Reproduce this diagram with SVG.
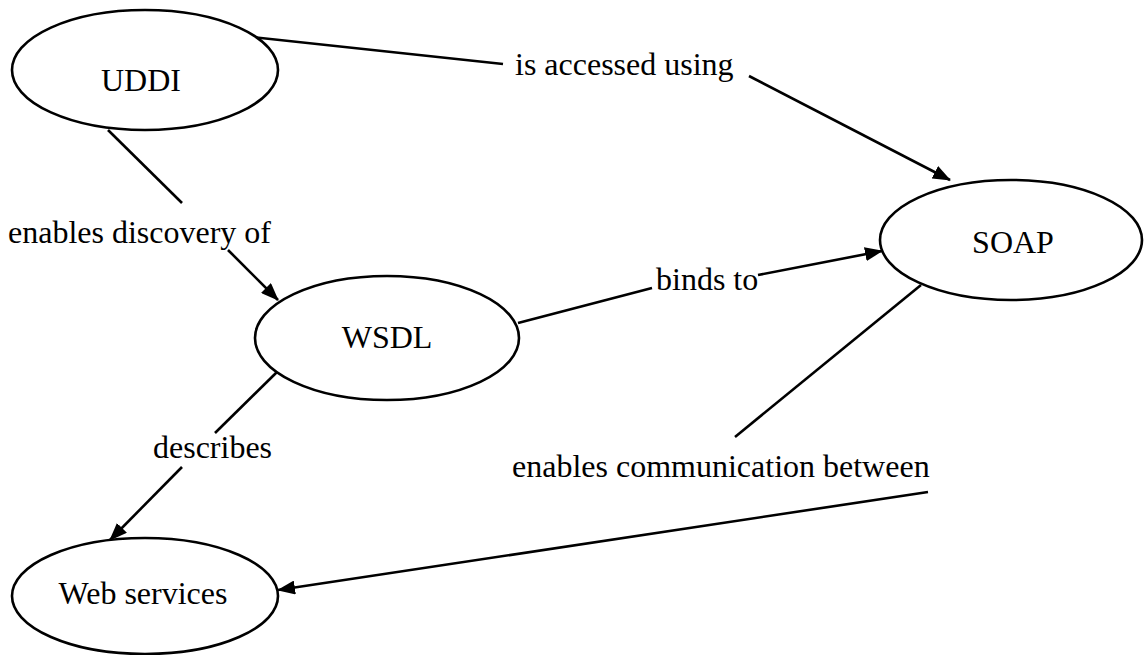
<svg xmlns="http://www.w3.org/2000/svg" width="1146" height="655" viewBox="0 0 1146 655">
<style>
.node{fill:#fff;stroke:#000;stroke-width:2.6}
text{font-family:'Liberation Serif','Times New Roman',serif;font-size:32px;fill:#000}
.mid{text-anchor:middle}
.edge{stroke:#000;stroke-width:2.6;fill:none}
</style>
<defs>
<marker id="arr" markerUnits="userSpaceOnUse" markerWidth="18" markerHeight="14" refX="17" refY="7" orient="auto">
<path d="M0,0 L18,7 L0,14 z" fill="#000"/>
</marker>
</defs>
<rect width="1146" height="655" fill="#fff"/>
<g id="connectors">
<line class="edge" x1="252" y1="37" x2="503" y2="64"/>
<text x="515" y="75">is accessed using</text>
<line class="edge" x1="749" y1="76" x2="950" y2="180" marker-end="url(#arr)"/>
<line class="edge" x1="108" y1="130" x2="182" y2="203"/>
<text x="8" y="243">enables discovery of</text>
<line class="edge" x1="228" y1="250" x2="278" y2="300" marker-end="url(#arr)"/>
<line class="edge" x1="518" y1="323" x2="652" y2="288"/>
<text x="656" y="290">binds to</text>
<line class="edge" x1="758" y1="275" x2="882" y2="251" marker-end="url(#arr)"/>
<line class="edge" x1="277" y1="372" x2="215" y2="433"/>
<text x="153" y="458">describes</text>
<line class="edge" x1="182" y1="467" x2="110" y2="540" marker-end="url(#arr)"/>
<line class="edge" x1="921" y1="285" x2="735" y2="437"/>
<text x="512" y="477">enables communication between</text>
<line class="edge" x1="928" y1="492" x2="278" y2="590" marker-end="url(#arr)"/>
</g>
<g id="uddi"><ellipse class="node" cx="145" cy="70" rx="133" ry="60"/><text class="mid" x="141" y="91">UDDI</text></g>
<g id="soap"><ellipse class="node" cx="1011" cy="240" rx="131" ry="60"/><text class="mid" x="1013" y="253">SOAP</text></g>
<g id="wsdl"><ellipse class="node" cx="387" cy="338" rx="132" ry="62"/><text class="mid" x="387" y="348">WSDL</text></g>
<g id="webservices"><ellipse class="node" cx="145" cy="596" rx="133" ry="58"/><text class="mid" x="143" y="604">Web services</text></g>
</svg>
